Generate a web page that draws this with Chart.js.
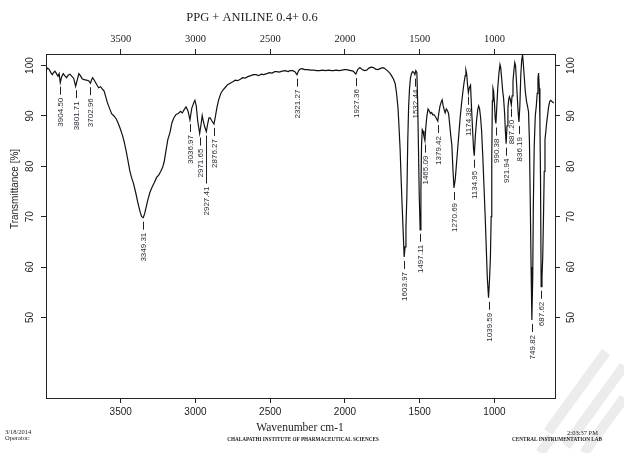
<!DOCTYPE html>
<html>
<head>
<meta charset="utf-8">
<title>PPG + ANILINE 0.4+ 0.6</title>
<script src="https://cdn.jsdelivr.net/npm/chart.js@4.4.1/dist/chart.umd.min.js"></script>
<style>
  html, body { margin: 0; padding: 0; background: #fff; }
  #wrap { width: 624px; height: 453px; position: relative; }
</style>
</head>
<body>
<div id="wrap"><canvas id="irChart" width="624" height="453"></canvas></div>
<script>
// FTIR spectrum, wavenumber (cm-1) vs transmittance (%)
const wavenumbers = [
  4000, 3990, 3980, 3968, 3958, 3950, 3940, 3930, 3920, 3912, 3904.5, 3895, 3885, 3875, 3862, 3852, 3840, 3828, 3815, 3801.7,
  3792, 3780, 3770, 3758, 3745, 3730, 3715, 3703, 3695, 3688, 3675, 3660, 3648, 3635, 3622, 3612, 3600, 3590, 3575, 3560,
  3545, 3530, 3518, 3505, 3490, 3478, 3465, 3452, 3440, 3428, 3415, 3400, 3385, 3370, 3360, 3349.3, 3340, 3330, 3320, 3305,
  3290, 3275, 3260, 3245, 3232, 3220, 3210, 3198, 3185, 3170, 3158, 3145, 3130, 3115, 3100, 3088, 3075, 3063, 3050, 3037,
  3025, 3012, 3004, 2995, 2985, 2972, 2962, 2955, 2948, 2938, 2927.4, 2918, 2910, 2902, 2890, 2876.3, 2866, 2857, 2845, 2830,
  2815, 2800, 2785, 2768, 2750, 2735, 2718, 2700, 2685, 2668, 2650, 2630, 2612, 2595, 2578, 2560, 2543, 2523, 2505, 2488,
  2470, 2456, 2440, 2420, 2400, 2380, 2367, 2350, 2335, 2321.3, 2310, 2300, 2285, 2270, 2250, 2230, 2211, 2190, 2170, 2150,
  2130, 2110, 2090, 2077, 2060, 2040, 2020, 2005, 1990, 1975, 1960, 1945, 1927.4, 1915, 1900, 1885, 1870, 1855, 1840, 1825,
  1810, 1795, 1780, 1765, 1750, 1738, 1725, 1710, 1697, 1685, 1675, 1664, 1655, 1645, 1638, 1631, 1625, 1618, 1610, 1604,
  1598, 1592, 1586, 1580, 1574, 1568, 1562, 1555, 1548, 1540, 1532.4, 1526, 1519, 1514, 1508, 1503, 1497.1, 1492, 1488, 1483,
  1478, 1472, 1465.1, 1460, 1452, 1444, 1436, 1428, 1420, 1412, 1405, 1398, 1390, 1379.4, 1372, 1364, 1356, 1350, 1343, 1336,
  1330, 1322, 1315, 1307, 1300, 1292, 1285, 1278, 1270.7, 1262, 1254, 1246, 1238, 1229, 1220, 1212, 1204, 1196, 1191, 1186,
  1180, 1174.4, 1168, 1160, 1154, 1146, 1140, 1135, 1128, 1120, 1112, 1106, 1100, 1093, 1086, 1078, 1070, 1062, 1055, 1048,
  1039.6, 1033, 1027, 1022, 1018, 1014, 1010, 1006, 1000, 995, 990.4, 985, 978, 970, 963, 958, 952, 945, 939, 932,
  927, 921.9, 916, 910, 905, 900, 895, 887.2, 882, 876, 870, 864, 859, 853, 847, 841, 836.2, 830, 824, 818,
  812, 806, 800, 794, 786, 778, 772, 766, 760, 755, 749.8, 744, 740, 734, 727, 720, 714, 709, 705, 700,
  696, 692, 687.6, 682, 677, 672, 667, 662, 656, 651, 645, 638, 630, 623, 616, 610, 603
];
const transmittance = [
  99.0, 99.5, 99.3, 98.6, 98.2, 98.6, 98.9, 98.4, 97.9, 98.4, 96.6, 97.8, 98.4, 98.0, 97.6, 98.1, 98.3, 97.9, 97.5, 95.9,
  97.0, 98.4, 98.0, 97.4, 97.2, 97.1, 97.0, 96.5, 97.2, 97.6, 97.0, 96.2, 95.6, 95.8, 95.3, 95.0, 93.8, 92.7, 91.5, 90.4,
  90.0, 89.4, 88.6, 87.6, 86.3, 85.0, 83.2, 81.2, 79.2, 77.8, 76.6, 74.8, 72.7, 70.9, 70.0, 69.8, 70.6, 71.9, 73.2, 74.8,
  75.9, 76.8, 77.8, 78.3, 79.0, 79.8, 80.8, 83.0, 85.3, 86.8, 88.6, 89.6, 90.3, 90.5, 90.9, 90.6, 91.3, 91.8, 91.0, 89.2,
  91.5, 92.6, 93.1, 92.0, 89.0, 86.5, 88.5, 90.1, 89.0, 87.8, 86.9, 88.5, 89.6, 89.6, 89.0, 88.4, 90.0, 91.6, 93.2, 94.5,
  95.2, 95.7, 96.2, 96.5, 96.8, 97.1, 97.0, 97.3, 97.6, 97.5, 97.8, 98.0, 98.2, 98.2, 98.0, 98.3, 98.2, 98.4, 98.6, 98.5,
  98.8, 98.8, 98.7, 98.9, 99.0, 98.8, 99.0, 99.0, 98.8, 98.2, 99.0, 99.3, 99.4, 99.2, 99.2, 99.1, 99.1, 99.0, 99.0, 99.1,
  99.0, 99.1, 99.0, 99.0, 99.1, 99.0, 99.1, 99.2, 99.2, 99.1, 99.0, 98.9, 98.3, 99.2, 99.6, 99.2, 99.0, 99.1, 99.5, 99.7,
  99.6, 99.3, 99.2, 99.4, 99.6, 99.5, 99.2, 98.8, 98.4, 97.8, 97.3, 96.4, 94.5, 91.5, 87.5, 83.3, 78.0, 72.5, 66.5, 62.0,
  64.0, 68.0, 74.0, 85.0, 92.0, 95.5, 97.5, 98.4, 98.8, 98.7, 98.2, 99.0, 98.6, 93.0, 83.0, 74.0, 67.4, 75.0, 84.0, 87.3,
  87.0, 86.0, 85.1, 87.5, 90.0, 91.4, 91.0, 90.5, 90.7, 90.2, 90.3, 90.0, 89.6, 89.0, 90.6, 92.0, 92.8, 93.2, 92.0, 91.2,
  90.6, 91.4, 91.1, 90.5, 88.5, 86.0, 84.2, 79.5, 75.7, 77.5, 80.5, 83.5, 86.5, 89.8, 92.5, 94.6, 96.5, 98.0, 99.1, 98.4,
  96.2, 94.6, 95.6, 96.1, 92.0, 87.0, 83.5, 82.1, 86.0, 89.0, 91.2, 92.0, 91.5, 89.8, 87.0, 82.0, 76.0, 70.0, 64.0, 58.0,
  53.9, 57.5, 62.0, 70.0, 82.0, 93.0, 95.5, 95.0, 92.5, 89.5, 88.5, 91.5, 95.5, 98.5, 100.2, 99.6, 97.5, 95.0, 93.5, 90.5,
  87.0, 84.5, 88.0, 91.5, 93.2, 93.8, 93.4, 92.2, 94.0, 97.0, 99.0, 100.6, 100.0, 97.0, 93.5, 90.5, 88.8, 92.0, 98.0, 101.0,
  102.2, 100.0, 97.5, 95.0, 93.0, 91.8, 90.8, 85.0, 72.0, 60.0, 49.5, 58.0, 72.0, 84.0, 90.0, 92.0, 94.5, 97.5, 98.5, 95.5,
  89.0, 78.0, 56.1, 58.0, 62.0, 70.0, 79.0, 85.3, 87.0, 88.6, 90.0, 91.8, 92.9, 93.1, 92.9, 92.7, 92.6
];

// picked peaks: position and transmittance at the band minimum
const peakLabels = ['3904.50', '3801.71', '3702.96', '3349.31', '3036.97', '2971.65', '2927.41', '2876.27', '2321.27',
  '1927.36', '1603.97', '1532.44', '1497.11', '1465.09', '1379.42', '1270.69', '1174.38', '1134.95', '1039.59',
  '990.38', '921.94', '887.20', '836.19', '749.82', '687.62'];
const peakTransmittance = [96.6, 95.9, 96.5, 69.8, 89.2, 86.5, 86.9, 88.4, 98.2,
  98.3, 62.0, 98.2, 67.4, 85.1, 89.0, 75.7, 94.6, 82.1, 53.9,
  88.5, 84.5, 92.2, 88.8, 49.5, 56.1];

const xTicks = [3500, 3000, 2500, 2000, 1500, 1000];
const yTicks = [50, 60, 70, 80, 90, 100];

const points = wavenumbers.map((w, i) => ({ x: w, y: transmittance[i] }));

const SANS = '"Liberation Sans", Arial, sans-serif';
const SERIF = '"Liberation Serif", "Times New Roman", serif';

// one label needs a longer leader so it clears its neighbours
const leaderLength = { '2927.41': 48 };

const peakLabelPlugin = {
  id: 'peakLabels',
  afterDatasetsDraw(chart) {
    const { ctx } = chart;
    const xs = chart.scales.x;
    const ys = chart.scales.y;
    ctx.save();
    ctx.strokeStyle = '#222';
    ctx.fillStyle = '#2a2a3a';
    ctx.lineWidth = 1;
    ctx.font = '8px ' + SANS;
    peakLabels.forEach((label, i) => {
      const px = Math.round(xs.getPixelForValue(parseFloat(label))) + 0.5;
      const py = ys.getPixelForValue(peakTransmittance[i]);
      const len = leaderLength[label] || 8;
      const y1 = py + 4;
      const y2 = y1 + len;
      ctx.beginPath();
      ctx.moveTo(px, y1);
      ctx.lineTo(px, y2);
      ctx.stroke();
      ctx.save();
      ctx.translate(px, y2 + 3);
      ctx.rotate(-Math.PI / 2);
      ctx.textAlign = 'right';
      ctx.textBaseline = 'middle';
      ctx.fillText(label, 0, 0.5);
      ctx.restore();
    });
    ctx.restore();
  }
};

const pageTextPlugin = {
  id: 'pageText',
  beforeDraw(chart) {
    const { ctx } = chart;
    ctx.save();
    ctx.fillStyle = '#fff';
    ctx.fillRect(0, 0, chart.width, chart.height);
    // faint stamp in the lower right corner
    ctx.strokeStyle = '#ececec';
    ctx.lineCap = 'butt';
    ctx.lineWidth = 10;
    [[548, 432, 606, 352], [566, 446, 624, 366], [584, 453, 624, 398], [540, 453, 552, 437]].forEach(s => {
      ctx.beginPath();
      ctx.moveTo(s[0], s[1]);
      ctx.lineTo(s[2], s[3]);
      ctx.stroke();
    });
    ctx.restore();
  },
  afterDraw(chart) {
    const { ctx } = chart;
    ctx.save();
    ctx.fillStyle = '#222';
    ctx.textBaseline = 'middle';

    ctx.font = '12.5px ' + SERIF;
    ctx.textAlign = 'center';
    ctx.fillText('PPG + ANILINE 0.4+ 0.6', 252, 18);

    ctx.font = '11.5px ' + SERIF;
    ctx.fillText('Wavenumber cm-1', 300, 428);

    ctx.save();
    ctx.translate(15, 189);
    ctx.rotate(-Math.PI / 2);
    ctx.font = '10px ' + SANS;
    ctx.fillText('Transmittance [%]', 0, 0);
    ctx.restore();

    ctx.font = '6.5px ' + SERIF;
    ctx.textAlign = 'left';
    ctx.fillText('3/18/2014', 5, 432);
    ctx.fillText('Operator:', 5, 438);
    ctx.textAlign = 'center';
    ctx.font = 'bold 5.2px ' + SERIF;
    ctx.fillText('CHALAPATHI INSTITUTE OF PHARMACEUTICAL SCIENCES', 303, 440);
    ctx.textAlign = 'right';
    ctx.font = '6.5px ' + SERIF;
    ctx.fillText('2:03:37 PM', 598, 433);
    ctx.font = 'bold 5.2px ' + SERIF;
    ctx.fillText('CENTRAL INSTRUMENTATION LAB', 602, 440);
    ctx.restore();
  }
};

const tickList = values => scale => { scale.ticks = values.map(v => ({ value: v })); };

const axisBase = {
  type: 'linear',
  grid: { drawOnChartArea: false, drawTicks: true, tickLength: 5, color: '#222', lineWidth: 1 },
  border: { display: true, color: '#222', width: 1 }
};

new Chart(document.getElementById('irChart'), {
  type: 'line',
  data: {
    datasets: [{
      label: 'Transmittance',
      data: points,
      borderColor: '#111',
      borderWidth: 1.2,
      pointRadius: 0,
      tension: 0,
      fill: false,
      xAxisID: 'x',
      yAxisID: 'y'
    }]
  },
  options: {
    responsive: false,
    devicePixelRatio: 1,
    animation: false,
    layout: { padding: 0 },
    plugins: { legend: { display: false }, tooltip: { enabled: false }, title: { display: false } },
    scales: {
      x: {
        ...axisBase, position: 'bottom', reverse: true, min: 595, max: 4000,
        afterBuildTicks: tickList(xTicks),
        afterFit: s => { s.height = 55; },
        ticks: { color: '#222', font: { family: SANS, size: 10 }, padding: 3, maxRotation: 0, callback: v => String(v) }
      },
      x2: {
        ...axisBase, position: 'top', reverse: true, min: 595, max: 4000,
        afterBuildTicks: tickList(xTicks),
        afterFit: s => { s.height = 54; },
        ticks: { color: '#222', font: { family: SERIF, size: 10.5 }, padding: 3, maxRotation: 0, callback: v => String(v) }
      },
      y: {
        ...axisBase, position: 'left', min: 34, max: 102.3,
        afterBuildTicks: tickList(yTicks),
        afterFit: s => { s.width = 46; },
        ticks: { color: '#222', font: { family: SANS, size: 10 }, padding: 2, minRotation: 90, maxRotation: 90, crossAlign: 'center', callback: v => String(v) }
      },
      y2: {
        ...axisBase, position: 'right', min: 34, max: 102.3,
        afterBuildTicks: tickList(yTicks),
        afterFit: s => { s.width = 69; },
        ticks: { color: '#222', font: { family: SANS, size: 10 }, padding: 3, minRotation: 90, maxRotation: 90, crossAlign: 'center', callback: v => String(v) }
      }
    }
  },
  plugins: [pageTextPlugin, peakLabelPlugin]
});
</script>
</body>
</html>
